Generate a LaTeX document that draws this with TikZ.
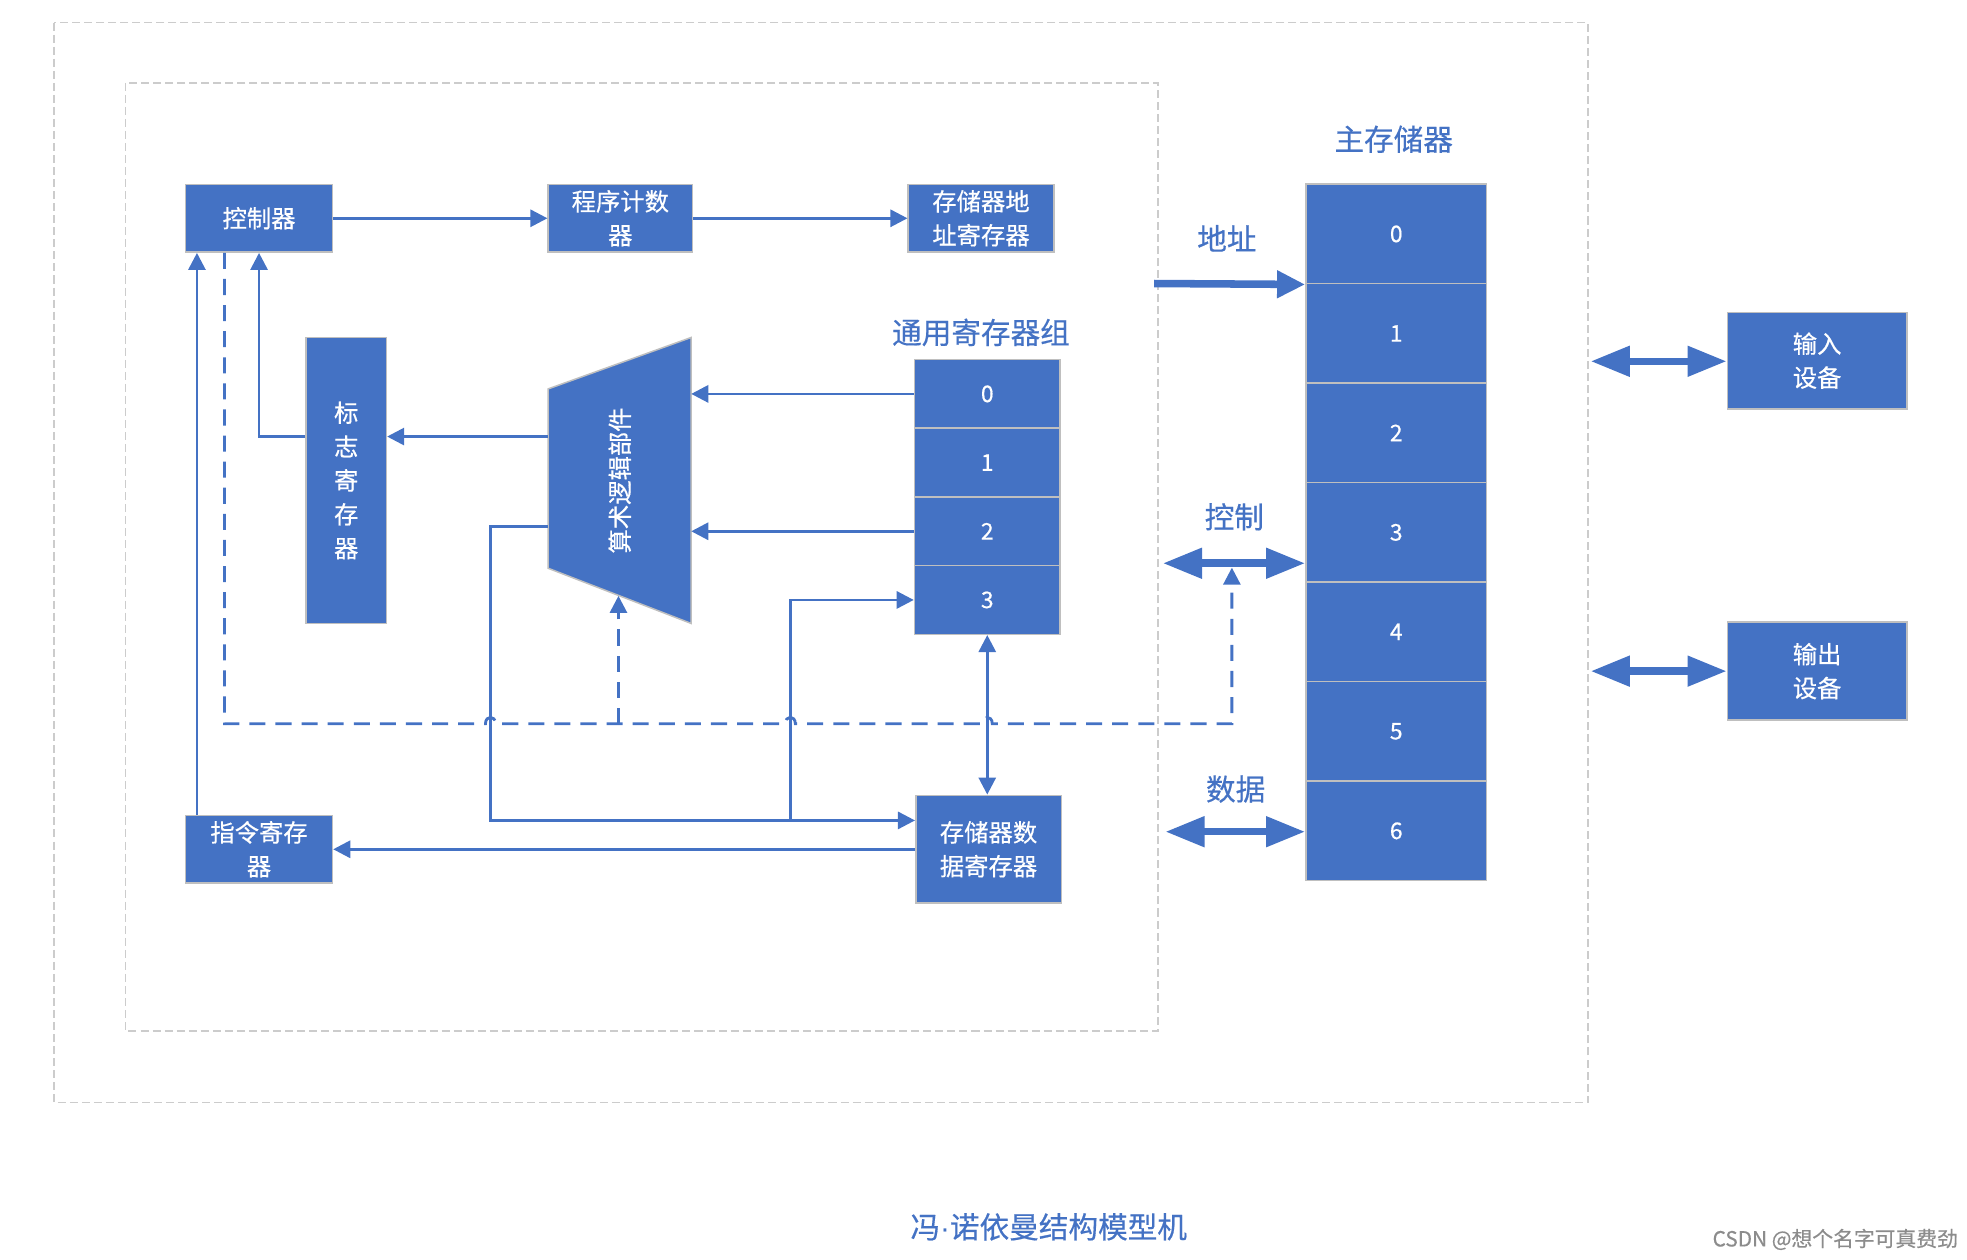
\documentclass[tikz,border=0pt]{standalone}
\usepackage{fontspec}
\setmainfont{Noto Sans CJK SC}[FakeBold=0.5]
\newfontfamily\dotfont{Liberation Sans}
\usetikzlibrary{arrows.meta}
\definecolor{boxblue}{HTML}{4472C4}
\definecolor{edgegray}{HTML}{BFBFBF}
\definecolor{framegray}{HTML}{CCCCCC}
\newcommand{\pxu}{0.125mm}
\tikzset{
  unit/.style={fill=boxblue,draw=edgegray,line width=0.15mm,text=white,inner sep=0pt,align=center,
    font=\fontsize{6.9pt}{9.6pt}\selectfont},
  boxsize/.style 2 args={minimum width=#1*\pxu,minimum height=#2*\pxu},
  digit/.style={font=\fontsize{6.5pt}{8pt}\selectfont},
  lbl/.style={text=boxblue,font=\fontsize{8.4pt}{10pt}\selectfont},
  frame/.style={draw=framegray,line width=0.15mm,dash pattern=on 0.8mm off 0.4mm},
  arr/.style={draw=boxblue,line width=0.28mm,-{Triangle[length=1.7mm,width=1.7mm]}},
  dblarr/.style={draw=boxblue,line width=0.28mm,{Triangle[length=1.7mm,width=1.7mm]}-{Triangle[length=1.7mm,width=1.7mm]}},
  ctlline/.style={draw=boxblue,line width=0.28mm,dash pattern=on 1.6mm off 1mm},
  bus/.style={draw=boxblue,line width=0.75mm,-{Triangle[length=2.8mm,width=2.6mm]}},
  dblbus/.style={draw=boxblue,line width=0.75mm,{Triangle[length=3.9mm,width=2.9mm]}-{Triangle[length=3.9mm,width=2.9mm]}}
}
\begin{document}
\begin{tikzpicture}[x=0.125mm,y=-0.125mm]
\useasboundingbox (0,0) rectangle (1568,1004);
\draw[frame] (43,18) rectangle (1266,879);
\draw[frame] (100,66) rectangle (923,822);

\node[unit,boxsize={117}{54}] (ctrl) at (206.5,174) {控制器};
\node[unit,boxsize={115}{54}] (pc) at (494.5,174) {程序计数\\器};
\node[unit,boxsize={116}{54}] (mar) at (782,174) {存储器地\\址寄存器};
\node[unit,boxsize={64}{228}] (flag) at (276,383) {标\\志\\寄\\存\\器};
\node[unit,boxsize={117}{54}] (ir) at (206.5,677) {指令寄存\\器};
\node[unit,boxsize={116}{86}] (mdr) at (788,677) {存储器数\\据寄存器};
\foreach \i in {0,...,3}
  \node[unit,digit,boxsize={116}{54.75}] (r\i) at (787,{314+54.75*\i}) {\i};
\foreach \i in {0,...,6}
  \node[unit,digit,boxsize={144}{79.3}] (m\i) at (1113,{186.5+79.3*\i}) {\i};
\node[unit,boxsize={143}{77}] (indev) at (1448.5,287.5) {输入\\设备};
\node[unit,boxsize={143}{78}] (outdev) at (1448.5,535) {输出\\设备};

\coordinate (aluA) at (437,310);
\coordinate (aluB) at (551,269);
\coordinate (aluC) at (551,497);
\coordinate (aluD) at (437,453);
\coordinate (alubot) at (493,475);
\filldraw[fill=boxblue,draw=edgegray,line width=0.15mm] (aluA) -- (aluB) -- (aluC) -- (aluD) -- cycle;
\node[rotate=90,text=white,font=\fontsize{6.9pt}{9.6pt}\selectfont] (alu) at (494,383) {算术逻辑部件};

\node[lbl] (gprlbl) at (782,265) {通用寄存器组};
\node[lbl] (memlbl) at (1111,111) {主存储器};
\node[lbl] (addrlbl) at (978,190) {地址};
\node[lbl] (ctllbl) at (984,412) {控制};
\node[lbl] (datalbl) at (985,629) {数据};
\node[lbl] (title) at (836,978) {冯{\dotfont ·}诺依曼结构模型机};
\node[text=black!45,font=\fontsize{5.9pt}{7pt}\selectfont] (mark) at (1463,988) {CSDN @想个名字可真费劲};

\draw[arr] (ctrl.east) -- (pc.west);
\draw[arr] (pc.east) -- (mar.west);
\draw[arr] (r0.west) -- (r0.west -| aluB);
\draw[arr] (r2.west) -- (r2.west -| aluB);
\draw[arr] (aluA |- 0,348) -- (flag.east |- 0,348);
\draw[arr] (flag.west |- 0,348) -| (ctrl.south);
\draw[arr] (ir.north -| 157,0) -- (ctrl.south -| 157,0);
\draw[arr] (mdr.west) -- (ir.east);
\draw[arr] (aluA |- 0,420) -- (391,420) -- (391,654) -- (mdr.west |- 0,654);
\draw[arr] (630,654) |- (r3.west);
\draw[dblarr] (r3.south) -- (r3.south |- mdr.north);

\draw[ctlline,-{Triangle[length=1.7mm,width=1.7mm]}] (ctrl.south -| 179,0) -- (179,577) -- (387,577)
  .. controls (387,570) and (395,570) .. (395,577) -- (626,577)
  .. controls (626,570) and (634,570) .. (634,577) -- (783,577)
  .. controls (783,570) and (791,570) .. (791,577) -- (982,577) -- (982,452.5);
\draw[ctlline,-{Triangle[length=1.7mm,width=1.7mm]}] (493,577) -- (alubot);

\coordinate (addr) at (920,226);
\coordinate (ctl) at (927,449);
\coordinate (data) at (929,663);
\coordinate (inbus) at (1268,288);
\coordinate (outbus) at (1268,535);
\draw[bus] (addr) -- (m0.south west);
\draw[dblbus] (ctl) -- (m3.west |- ctl);
\draw[dblbus] (data) -- (m6.west |- data);
\draw[dblbus] (inbus) -- (indev.west |- inbus);
\draw[dblbus] (outbus) -- (outdev.west |- outbus);
\end{tikzpicture}
\end{document}
